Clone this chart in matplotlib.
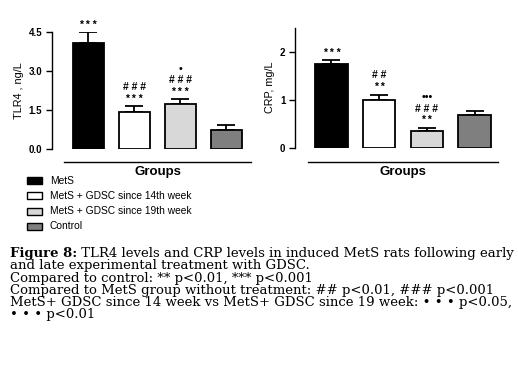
import matplotlib
matplotlib.use("Agg")
import matplotlib.pyplot as plt
import matplotlib.transforms as mtransforms
import numpy as np

groups = ["MetS", "MetS + GDSC since 14th week", "MetS + GDSC since 19th week", "Control"]
colors = ["#000000", "#ffffff", "#d8d8d8", "#7f7f7f"]

tlr4_vals = [4.08, 1.42, 1.72, 0.74]
tlr4_err = [0.42, 0.25, 0.20, 0.18]
tlr4_ticks = [0.0, 1.5, 3.0, 4.5]
tlr4_ticklabels = ["0.0", "1.5", "3.0", "4.5"]
tlr4_marks = [["* * *"], ["# # #", "* * *"], ["•", "# # #", "* * *"], []]

crp_vals = [1.74, 0.99, 0.34, 0.68]
crp_err = [0.08, 0.11, 0.07, 0.09]
crp_ticks = [0, 1, 2]
crp_ticklabels = ["0", "1", "2"]
crp_marks = [["* * *"], ["# #", "* *"], ["•••", "# # #", "* *"], []]

caption = [
    ("Figure 8:", " TLR4 levels and CRP levels in induced MetS rats following early"),
    ("", "and late experimental treatment with GDSC."),
    ("", "Compared to control: ** p<0.01, *** p<0.001"),
    ("", "Compared to MetS group without treatment: ## p<0.01, ### p<0.001"),
    ("", "MetS+ GDSC since 14 week vs MetS+ GDSC since 19 week: \u2022 \u2022 \u2022 p<0.05,"),
    ("", "\u2022 \u2022 \u2022 p<0.01"),
]

W, H = 518, 371
fig = plt.figure(figsize=(W / 100, H / 100), dpi=100)
plt.rcParams['font.family'] = ['Liberation Sans', 'DejaVu Sans']


def px_axes(x0, x1, ytop, ybot):
    return fig.add_axes([x0 / W, (H - ybot) / H, (x1 - x0) / W, (ybot - ytop) / H])


def draw_panel(ax, vals, errs, ymax, ticks, ticklabels, ylabel, marks, xlo, xhi, line_lo,
               mark_step, mark_gap, lab_pad):
    x = np.arange(len(vals))
    ax.bar(x, vals, width=0.68, color=colors, edgecolor="black", linewidth=1.3, zorder=2)
    ax.errorbar(x, vals, yerr=[np.zeros(len(vals)), errs], fmt="none", ecolor="black",
                elinewidth=1.3, capsize=6.5, capthick=1.3, zorder=1)
    ax.set_xlim(xlo, xhi)
    ax.set_ylim(0, ymax)
    ax.set_yticks(ticks)
    ax.set_yticklabels(ticklabels, fontsize=7, fontweight="bold")
    ax.set_ylabel(ylabel, fontsize=7.8, labelpad=lab_pad)
    ax.set_xticks([])
    for s in ["top", "right", "bottom"]:
        ax.spines[s].set_visible(False)
    ax.spines["left"].set_linewidth(1.0)
    ax.tick_params(axis="y", length=4, width=1.0, pad=3)
    trans = mtransforms.blended_transform_factory(ax.transData, ax.transAxes)
    ax.plot([line_lo, xhi], [-0.115, -0.115], color="black", lw=1.0, transform=trans,
            clip_on=False)
    ax.text((line_lo + xhi) / 2, -0.2, "Groups", transform=trans, ha="center", va="center",
            fontsize=9.5, fontweight="bold")
    for i, ms in enumerate(marks):
        top = vals[i] + errs[i]
        for j, m in enumerate(reversed(ms)):
            ax.annotate(m, (x[i], top), xytext=(0, mark_gap + j * mark_step),
                        textcoords="offset points", ha="center", va="center",
                        fontsize=7.5, fontweight="bold")


ax1 = px_axes(52, 251, 32, 149)
draw_panel(ax1, tlr4_vals, tlr4_err, 4.5, tlr4_ticks, tlr4_ticklabels, "TLR4 , ng/L",
           tlr4_marks, -0.79, 3.54, -0.53, 8.5, 5.0, 3.5)

ax2 = px_axes(295, 498, 27.7, 147.7)
draw_panel(ax2, crp_vals, crp_err, 2.5, crp_ticks, crp_ticklabels, "CRP, mg/L",
           crp_marks, -0.765, 3.49, -0.5, 8.5, 5.5, 3.5)

# legend
for i, (g, c) in enumerate(zip(groups, colors)):
    yc = 180.5 + i * 15.3
    fig.patches.append(plt.Rectangle((27 / W, (H - yc - 3.5) / H), 15 / W, 7 / H,
                                     facecolor=c, edgecolor="black", linewidth=1.0,
                                     transform=fig.transFigure, figure=fig))
    fig.text(50 / W, (H - yc) / H, g, fontsize=7.4, va="center", ha="left")

# caption, sized so the first line spans the same width as in the reference
serif = ['DejaVu Serif']
fig.canvas.draw()
renderer = fig.canvas.get_renderer()


def line_width(size):
    b, t = caption[0]
    t1 = fig.text(0, 0, b, fontsize=size, fontweight="bold", family=serif)
    t2 = fig.text(0, 0, t, fontsize=size, family=serif)
    w = t1.get_window_extent(renderer).width + t2.get_window_extent(renderer).width
    t1.remove()
    t2.remove()
    return w


cap_size = 8.0
cap_size *= 502 / line_width(cap_size)
for i, (b, t) in enumerate(caption):
    yb = 257.3 + i * 12.2
    x0 = 10
    if b:
        tb = fig.text(x0 / W, (H - yb) / H, b, fontsize=cap_size, fontweight="bold",
                      va="baseline", ha="left", family=serif)
        bb = tb.get_window_extent(renderer)
        x0 = bb.x1
    fig.text(x0 / W, (H - yb) / H, t, fontsize=cap_size, va="baseline", ha="left",
             family=serif)

fig.savefig("out.png", dpi=100)
